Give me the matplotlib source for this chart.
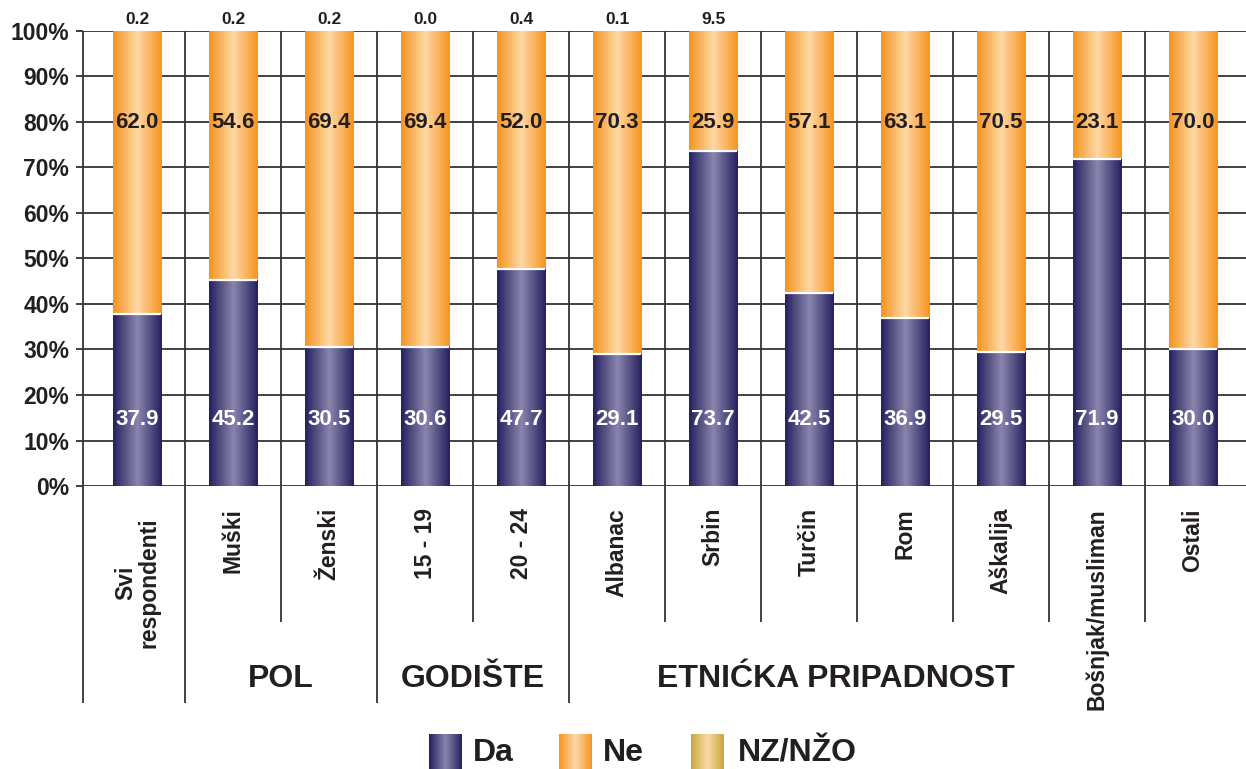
import numpy as np
import matplotlib
matplotlib.use('Agg')
import matplotlib.pyplot as plt
from matplotlib.colors import LinearSegmentedColormap

# ---------------- data ----------------
categories = ['Svi\nrespondenti', 'Muški', 'Ženski', '15 - 19', '20 - 24', 'Albanac',
              'Srbin', 'Turčin', 'Rom', 'Aškalija', 'Bošnjak/musliman', 'Ostali']
da = [37.9, 45.2, 30.5, 30.6, 47.7, 29.1, 73.7, 42.5, 36.9, 29.5, 71.9, 30.0]
ne = [62.0, 54.6, 69.4, 69.4, 52.0, 70.3, 25.9, 57.1, 63.1, 70.5, 23.1, 70.0]
nz = [0.2, 0.2, 0.2, 0.0, 0.4, 0.1, 9.5, None, None, None, None, None]
groups = ['POL', 'GODIŠTE', 'ETNIĆKA PRIPADNOST']
group_pos = [1.5, 3.5, 7.28]
series = ['Da', 'Ne', 'NZ/NŽO']
yticks = [0, 10, 20, 30, 40, 50, 60, 70, 80, 90, 100]
long_lines = [-0.5625, 0.5, 2.5, 4.5]
short_lines = [1.5, 3.5, 5.5, 6.5, 7.5, 8.5, 9.5, 10.5]

# ---------------- style ----------------
plt.rcParams['font.family'] = ['Liberation Sans', 'DejaVu Sans']
TXT = '#231f20'
GRID = '#333333'
cm_da = LinearSegmentedColormap.from_list('da', ['#25205e', '#8a85ad', '#25205e'])
cm_ne = LinearSegmentedColormap.from_list('ne', ['#f7931e', '#fdd8a6', '#f7931e'])
cm_nz = LinearSegmentedColormap.from_list('nz', ['#c9a73a', '#fcd9a6', '#c9a73a'])
grad = np.linspace(0, 1, 256)[None, :]

W, H = 1246, 769
fig = plt.figure(figsize=(W / 100, H / 100), dpi=100)
ax = fig.add_axes([83 / W, (H - 486) / H, (W - 83) / W, 455 / H])
for s in ax.spines.values():
    s.set_visible(False)

ax.set_yticks(yticks)
ax.set_yticklabels([f'{v}%' for v in yticks], fontsize=16.5, fontweight='bold', color=TXT)
ax.tick_params(axis='y', length=5, width=1.3, color=GRID, pad=5)
ax.set_xticks([])
ax.yaxis.grid(True, color=GRID, lw=1.3, zorder=0)
ax.set_axisbelow(True)

x = np.arange(len(categories))
bw = 0.51


def grad_bar(xc, bottom, height, cmap):
    bars = ax.bar(xc, height, bw, bottom=bottom, color='none', edgecolor='none', zorder=2)
    for b in bars:
        x0, y0 = b.get_x(), b.get_y()
        im = ax.imshow(grad, cmap=cmap, aspect='auto', interpolation='bilinear',
                       extent=[x0, x0 + b.get_width(), y0, y0 + b.get_height()], zorder=2)
        im.set_clip_path(b)


da_arr = np.array(da)
grad_bar(x, 0, da_arr, cm_da)
grad_bar(x, da_arr, 100 - da_arr, cm_ne)
ax.hlines(da_arr, x - bw / 2, x + bw / 2, color='white', lw=1.6, zorder=3)
ax.set_xlim(-0.5625, 11.552)
ax.set_ylim(0, 100)

# vertical separators
ax.vlines(long_lines, -47.7, 100, color=GRID, lw=1.3, clip_on=False, zorder=1)
ax.vlines(short_lines, -29.9, 100, color=GRID, lw=1.3, clip_on=False, zorder=1)

# value labels
for i in range(len(categories)):
    ax.text(x[i], 13.4, f'{da[i]:.1f}', color='white', fontsize=16, fontweight='bold',
            ha='center', va='baseline', zorder=4)
    ax.text(x[i], 78.7, f'{ne[i]:.1f}', color=TXT, fontsize=16, fontweight='bold',
            ha='center', va='baseline', zorder=4)
    if nz[i] is not None:
        ax.text(x[i], 101.5, f'{nz[i]:.1f}', color=TXT, fontsize=12.5, fontweight='bold',
                ha='center', va='baseline', clip_on=False, zorder=4)
    ytop = -7.0 if '\n' in categories[i] else -4.84
    ax.text(x[i], ytop, categories[i], rotation=90, ha='center', va='top',
            multialignment='center', color=TXT, fontsize=16.5, fontweight='bold',
            linespacing=1.0)

for g, gp in zip(groups, group_pos):
    ax.text(gp, -44.2, g, ha='center', va='baseline', color=TXT, fontsize=23,
            fontweight='bold')

# legend
leg_box = [429, 559, 691]
leg_txt = [473, 603, 738]
for name, bx, tx, cm in zip(series, leg_box, leg_txt, [cm_da, cm_ne, cm_nz]):
    lax = fig.add_axes([bx / W, 0, 33 / W, (H - 734) / H])
    lax.imshow(grad, cmap=cm, aspect='auto', interpolation='bilinear')
    lax.axis('off')
    fig.text(tx / W, 1 / H, name, ha='left', va='bottom', color=TXT,
             fontsize=23, fontweight='bold')

fig.savefig('out.png', dpi=100)
